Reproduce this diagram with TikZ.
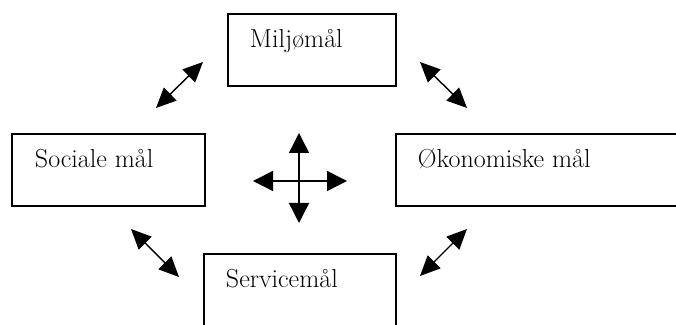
\documentclass[tikz,border=0pt]{standalone}
\usetikzlibrary{arrows.meta,calc}
\begin{document}
\begin{tikzpicture}[
  goal/.style={draw=black, line width=1.15pt, inner sep=0pt, anchor=north west},
  goaltext/.style={anchor=base west, font=\fontsize{18.5}{22}\selectfont},
  link/.style={line width=1pt, {Triangle[length=0.5cm,width=0.45cm]}-{Triangle[length=0.5cm,width=0.45cm]}},
  spread/.style={line width=1pt, -{Triangle[length=0.5cm,width=0.5cm]}}
]
\useasboundingbox (0,0) rectangle (16.9,8.125);
% boxes
\node[goal, minimum width=4.2cm, minimum height=1.8cm] (miljo) at (5.675,7.8) {};
\node[goal, minimum width=4.825cm, minimum height=1.8cm] (social) at (0.275,4.8) {};
\node[goal, minimum width=7.2cm, minimum height=1.8cm] (okonomi) at (9.875,4.8) {};
\node[goal, minimum width=4.8cm, minimum height=2.1cm] (service) at (5.075,1.8) {};
\node[goaltext] (miljotxt) at ($(miljo.north west)+(0.45,-0.875)$) {Miljømål};
\node[goaltext] (socialtxt) at ($(social.north west)+(0.475,-0.875)$) {Sociale mål};
\node[goaltext] (okonomitxt) at ($(okonomi.north west)+(0.45,-0.875)$) {Økonomiske mål};
\node[goaltext] (servicetxt) at ($(service.north west)+(0.45,-0.875)$) {Servicemål};
% diagonal arrows
\coordinate (ula) at (3.9,5.425);
\coordinate (ulb) at (5.075,6.575);
\coordinate (ura) at (10.5,6.575);
\coordinate (urb) at (11.675,5.425);
\coordinate (lla) at (3.275,2.4);
\coordinate (llb) at (4.475,1.2);
\coordinate (lra) at (10.5,1.225);
\coordinate (lrb) at (11.675,2.4);
\draw[link] (ula) -- (ulb);
\draw[link] (ura) -- (urb);
\draw[link] (lla) -- (llb);
\draw[link] (lra) -- (lrb);
% cross in the middle
\coordinate (mid) at (7.475,3.6);
\coordinate (midn) at (7.475,4.8);
\coordinate (mids) at (7.475,2.55);
\coordinate (midw) at (6.325,3.6);
\coordinate (mide) at (8.675,3.6);
\foreach \tip in {midn,mids,midw,mide}
  \draw[spread] (mid) -- (\tip);
\end{tikzpicture}
\end{document}
